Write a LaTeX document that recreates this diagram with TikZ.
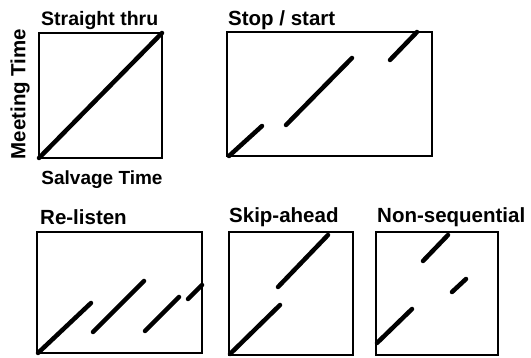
\documentclass[tikz,border=0pt]{standalone}
\usepackage{fontspec}
\setmainfont{Liberation Sans}
\begin{document}
\begin{tikzpicture}[x=1pt,y=-1pt,
  frame/.style={draw=black,line width=2pt},
  seg/.style={draw=black,line width=4.5pt,line cap=round},
  lbl/.style={font=\bfseries\fontsize{20.5}{22}\selectfont,inner sep=0pt}]
\useasboundingbox (0,0) rectangle (531,358);
\clip (0,0) rectangle (531,358);
% boxes
\draw[frame] (39,33) rectangle (162,158);
\draw[frame] (227,32) rectangle (432,156);
\draw[frame] (37,232) rectangle (202,353);
\draw[frame] (229,232) rectangle (353,355);
\draw[frame] (376,232) rectangle (498,355);
% labels
\node[lbl,anchor=base west,font=\bfseries\fontsize{19.5}{21}\selectfont] (t1) at (41,26) {Straight thru};
\node[lbl,anchor=base west] (t2) at (228,26) {Stop / start};
\node[lbl,anchor=base west] (t3) at (40,225) {Re-listen};
\node[lbl,anchor=base west] (t4) at (229,223) {Skip-ahead};
\node[lbl,anchor=base west] (t5) at (377,223) {Non-sequential};
\node[lbl,rotate=90] (ym) at (20,94) {Meeting Time};
\node[lbl,anchor=base,font=\bfseries\fontsize{19}{21}\selectfont] (xs) at (102,185) {Salvage Time};
% Straight thru
\draw[seg] (39,158) -- (162,33);
% Stop / start
\draw[seg] (229,156) -- (262,126);
\draw[seg] (286,125) -- (352,58);
\draw[seg] (390,60) -- (417,32);
% Re-listen
\draw[seg] (38,353) -- (91,303);
\draw[seg] (93,332) -- (144,281);
\draw[seg] (145,331) -- (179,297);
\draw[seg] (188,299) -- (202,285);
% Skip-ahead
\draw[seg] (230,354) -- (280,305);
\draw[seg] (278,287) -- (328,235);
% Non-sequential
\draw[seg] (377,343) -- (412,309);
\draw[seg] (452,292) -- (466,279);
\draw[seg] (423,261) -- (448,235);
\end{tikzpicture}
\end{document}
